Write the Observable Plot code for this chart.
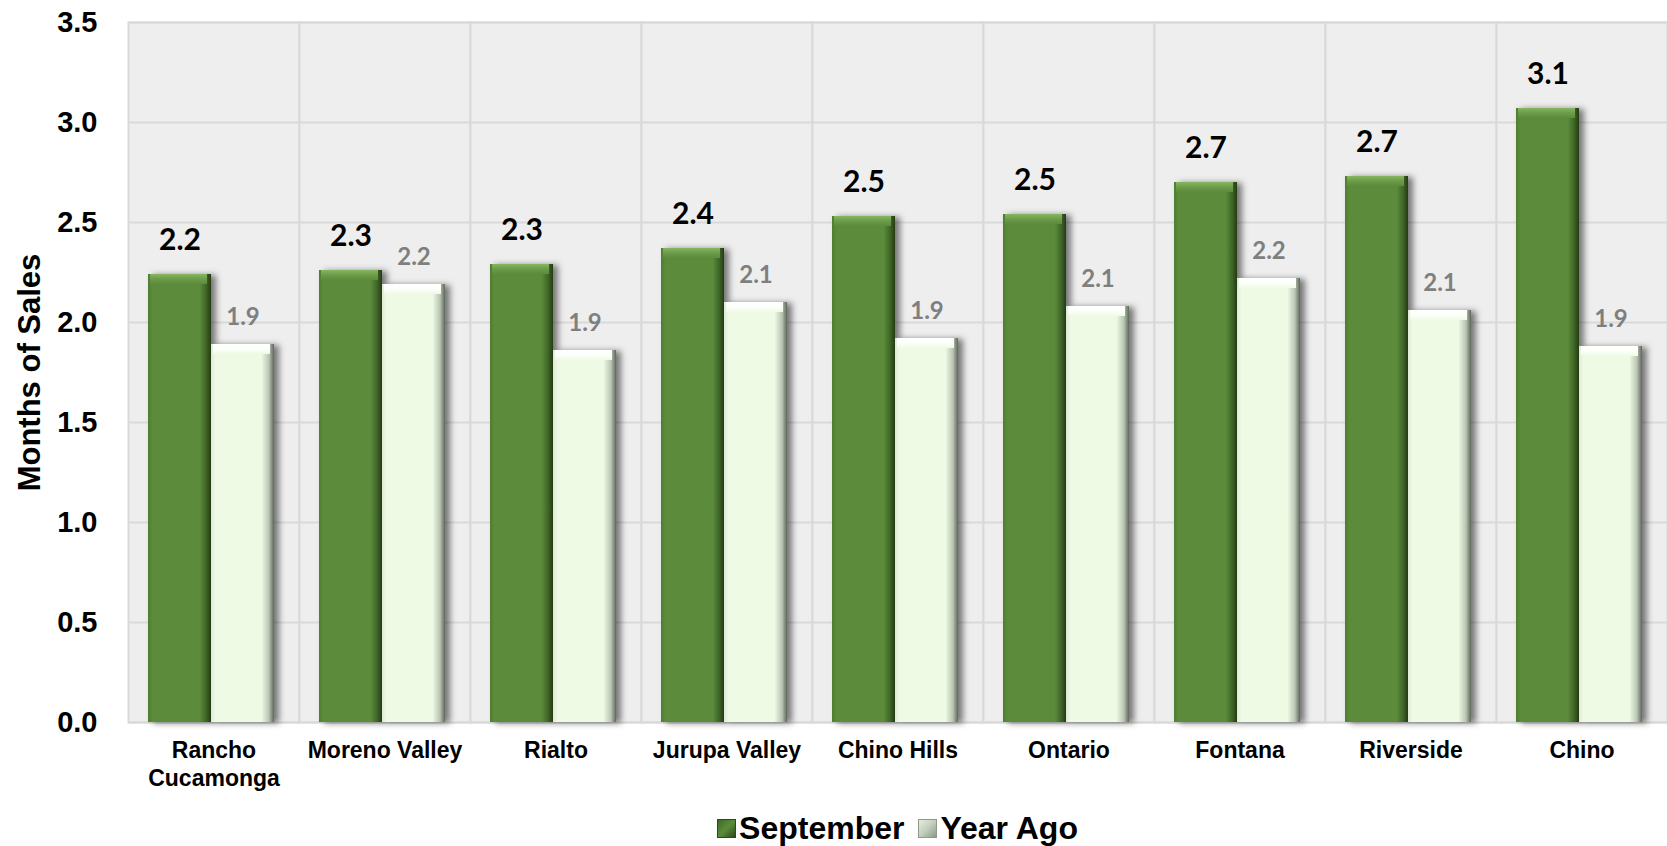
<!DOCTYPE html>
<html><head><meta charset="utf-8">
<script src="https://cdn.jsdelivr.net/npm/d3@7"></script>
<script src="https://cdn.jsdelivr.net/npm/@observablehq/plot@0.6"></script>
<style>
body{margin:0;background:#fff;}
#legend{display:flex;justify-content:center;align-items:center;padding-left:128px;height:46px;margin-top:5px;
  font-family:"Liberation Sans",Arial,sans-serif;font-weight:bold;font-size:32px;color:#000;}
.sw{width:19px;height:19px;display:inline-block;margin-right:3px;box-sizing:border-box;}
.item{display:flex;align-items:center;margin:0 7px;}
</style></head><body>
<div id="chart"></div>
<div id="legend"></div>
<script>
const cities = ["Rancho\nCucamonga","Moreno Valley","Rialto","Jurupa Valley","Chino Hills","Ontario","Fontana","Riverside","Chino"];
const series = ["September","Year Ago"];
const september = [2.24,2.26,2.29,2.37,2.53,2.54,2.70,2.73,3.07];
const yearAgo = [1.89,2.19,1.86,2.10,1.92,2.08,2.22,2.06,1.88];
const yTicks = [0,0.5,1,1.5,2,2.5,3,3.5];
const seriesColors = ["#5b8c3a","#eefae4"];

const rows = cities.flatMap((c,i)=>[
  {city:c, series:series[0], value:september[i]},
  {city:c, series:series[1], value:yearAgo[i]}
]);
const sep = rows.filter(d=>d.series===series[0]);
const ya = rows.filter(d=>d.series===series[1]);
const fmt = d3.format(".1f");
const sans = "'Liberation Sans', Arial, sans-serif";
const lato = "Lato, 'Open Sans', sans-serif";

const plot = Plot.plot({
  width: 1667, height: 800,
  marginLeft: 128, marginTop: 22, marginRight: 0, marginBottom: 78,
  style: {fontFamily: sans, background: "transparent", overflow: "visible"},
  fx: {domain: cities, padding: 0, label: null, axis: null},
  x: {domain: series, paddingInner: 0, paddingOuter: 0.35, align: 0.45, axis: null},
  y: {domain: [0,3.5], label: null},
  marks: [
    Plot.frame({fill: "#eeeeee", stroke: "#d9d9d9", strokeWidth: 2}),
    Plot.gridY(yTicks, {stroke: "#d9d9d9", strokeOpacity: 1, strokeWidth: 2}),
    Plot.barY(sep, {fx: "city", x: "series", y: "value", fill: "url(#gSep)"}),
    Plot.barY(ya, {fx: "city", x: "series", y: "value", fill: "url(#gYA)"}),
    Plot.barY(sep, {fx: "city", x: "series", y1: "value", y2: "value", insetBottom: -10, insetLeft: 2, insetRight: 4, fill: "url(#tSep)"}),
    Plot.barY(ya, {fx: "city", x: "series", y1: "value", y2: "value", insetBottom: -10, insetLeft: 2, insetRight: 4, fill: "url(#tYA)"}),
    Plot.text(sep, {fx: "city", x: "series", y: "value", text: d=>fmt(d.value), dy: -34,
      fontFamily: lato, fontWeight: "bold", fontSize: 30, fill: "#000"}),
    Plot.text(ya, {fx: "city", x: "series", y: "value", text: d=>fmt(d.value), dy: -27,
      fontFamily: lato, fontWeight: "bold", fontSize: 24, fill: "#7f7f7f"}),
    Plot.axisY({ticks: yTicks, tickSize: 0, tickPadding: 31, tickFormat: fmt, label: null,
      fontSize: 29, fontWeight: "bold", fill: "#000"}),
    Plot.axisFx({anchor: "bottom", tickSize: 0, tickPadding: 16, label: null, fontSize: 23, fontWeight: "bold",
      lineHeight: 1.22, fill: "#000"}),
    Plot.text(["Months of Sales"], {fx: [cities[0]], frameAnchor: "left", textAnchor: "middle", dx: -98, rotate: -90,
      fontSize: 31, fontWeight: "bold", fill: "#000"})
  ]
});

// gradients and shadow
const svg = d3.select(plot);
const defs = svg.insert("defs", ":first-child");
function hGrad(id, stops){
  const g = defs.append("linearGradient").attr("id", id).attr("x1","0").attr("x2","1").attr("y1","0").attr("y2","0");
  stops.forEach(([o,c])=>g.append("stop").attr("offset",o).attr("stop-color",c));
}
function vGrad(id, stops){
  const g = defs.append("linearGradient").attr("id", id).attr("x1","0").attr("x2","0").attr("y1","0").attr("y2","1");
  stops.forEach(([o,c])=>g.append("stop").attr("offset",o).attr("stop-color",c));
}
hGrad("gSep", [["0","#4f7d31"],["0.07",seriesColors[0]],["0.82",seriesColors[0]],["0.93","#3d6226"],["1","#243a15"]]);
hGrad("gYA", [["0","#dfead6"],["0.07",seriesColors[1]],["0.80",seriesColors[1]],["0.92","#b9c4b2"],["1","#5d665a"]]);
vGrad("tSep", [["0","#86b660"],["0.5","#6c9c49"],["1",seriesColors[0]]]);
vGrad("tYA", [["0","#ffffff"],["0.6","#fbfff7"],["1",seriesColors[1]]]);
const f = defs.append("filter").attr("id","sh").attr("x","-20%").attr("y","-10%").attr("width","150%").attr("height","120%");
f.append("feDropShadow").attr("dx",5).attr("dy",1).attr("stdDeviation",3).attr("flood-color","#000").attr("flood-opacity",0.5);
svg.selectAll("g[aria-label='bar']").each(function(d,i){ if(i<2) d3.select(this).selectAll("rect").attr("filter","url(#sh)"); });

document.getElementById("chart").appendChild(plot);

const leg = d3.select("#legend");
const swStyles = [
  "background:linear-gradient(135deg,#3f6a26,#5b8c3a 50%,#2d4a1a);border:1px solid #2d4a1a;",
  "background:linear-gradient(135deg,#e4eddc,#c4cebd 50%,#8f998a);border:1px solid #8f998a;"
];
series.forEach((s,i)=>{
  const it = leg.append("div").attr("class","item");
  it.append("span").attr("class","sw").attr("style", swStyles[i]);
  it.append("span").text(s);
});
</script>
</body></html>
